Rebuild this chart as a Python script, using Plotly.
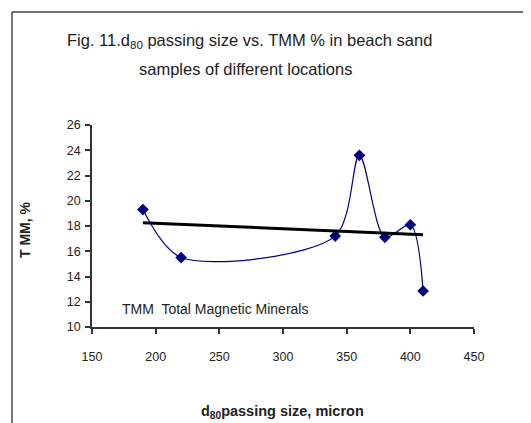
import numpy as np
import plotly.graph_objects as go

# Data
d80_size = [190, 220, 341, 360, 380, 400, 410]
tmm_pct = [19.3, 15.5, 17.2, 23.6, 17.1, 18.1, 12.85]
x_ticks = [150, 200, 250, 300, 350, 400, 450]
y_ticks = [10, 12, 14, 16, 18, 20, 22, 24, 26]

# Linear trendline (as in the spreadsheet's trendline)
slope, intercept = np.polyfit(d80_size, tmm_pct, 1)
trend_x = [min(d80_size), max(d80_size)]
trend_y = [slope * v + intercept for v in trend_x]

OFF = 8  # page body margin offset
W, H = 531 - OFF, 423 - OFF
L, R, T, B = 92 - OFF, 474 - OFF, 125 - OFF, 327 - OFF
pw, ph = R - L, B - T

def px(x):
    return (x - OFF - L) / pw

def py(y):
    return (B - (y - OFF)) / ph

fig = go.Figure()
fig.add_trace(go.Scatter(
    x=d80_size, y=tmm_pct, mode="lines+markers",
    line=dict(color="#000080", width=1.2, shape="spline", smoothing=0.85),
    marker=dict(symbol="diamond", size=9, color="#000080"),
    showlegend=False, cliponaxis=False,
))
fig.add_trace(go.Scatter(
    x=trend_x, y=trend_y, mode="lines",
    line=dict(color="black", width=3),
    showlegend=False,
))

font_family = "Liberation Sans, Arial, sans-serif"

fig.update_layout(
    width=W, height=H,
    margin=dict(l=L, r=W - R, t=T, b=H - B, pad=0),
    paper_bgcolor="white", plot_bgcolor="white",
    font=dict(family=font_family, size=12, color="#222"),
    xaxis=dict(
        range=[150, 450], tickvals=x_ticks, ticktext=[str(v) for v in x_ticks],
        showgrid=False, zeroline=False, showline=True, linecolor="#333", linewidth=1.5,
        ticks="outside", ticklen=5, tickwidth=1.5, tickcolor="#333",
        ticklabelstandoff=12, tickfont=dict(size=12.5, color="#222"),
    ),
    yaxis=dict(
        range=[10, 26], tickvals=y_ticks, ticktext=[str(v) for v in y_ticks],
        showgrid=False, zeroline=False, showline=True, linecolor="#333", linewidth=1.5,
        ticks="outside", ticklen=5, tickwidth=1.5, tickcolor="#333",
        ticklabelstandoff=2, tickfont=dict(size=12.5, color="#222"),
    ),
    shapes=[
        dict(type="line", xref="paper", yref="paper",
             x0=px(12), x1=px(535), y0=py(12), y1=py(12),
             line=dict(color="#444", width=1.5)),
        dict(type="line", xref="paper", yref="paper",
             x0=px(12), x1=px(12), y0=py(12), y1=py(430),
             line=dict(color="#444", width=1.5)),
    ],
    annotations=[
        dict(text="Fig. 11.d<sub>80</sub> passing size vs. TMM % in beach sand",
             xref="paper", yref="paper", x=px(249), y=py(41),
             xanchor="center", yanchor="middle", showarrow=False,
             font=dict(size=16.5, color="#222")),
        dict(text="samples of different locations",
             xref="paper", yref="paper", x=px(245), y=py(69),
             xanchor="center", yanchor="middle", showarrow=False,
             font=dict(size=16.5, color="#222")),
        dict(text="<b>T MM, %</b>", textangle=-90,
             xref="paper", yref="paper", x=px(25), y=py(230),
             xanchor="center", yanchor="middle", showarrow=False,
             font=dict(size=14, color="#222")),
        dict(text="<b>d<sub>80</sub>passing size, micron</b>",
             xref="paper", yref="paper", x=px(282), y=py(412),
             xanchor="center", yanchor="middle", showarrow=False,
             font=dict(size=14.5, color="#222")),
        dict(text="TMM  Total Magnetic Minerals",
             xref="paper", yref="paper", x=px(120), y=py(309),
             xanchor="left", yanchor="middle", showarrow=False,
             font=dict(size=14, color="#222")),
    ],
)

fig.write_html("out.html")
